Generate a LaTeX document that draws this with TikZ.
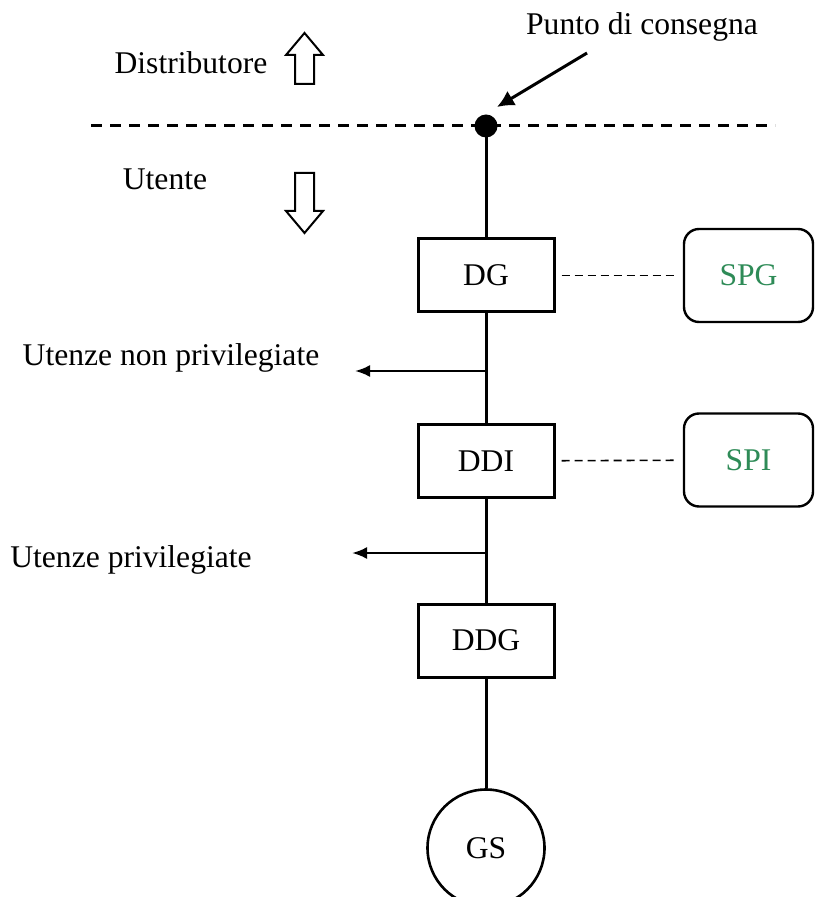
\documentclass[tikz,border=0pt]{standalone}
\usepackage{fontspec}
\setmainfont{Liberation Serif}
\usetikzlibrary{arrows.meta}
\definecolor{spgreen}{RGB}{46,139,87}
\tikzset{
	box/.style={draw, line width=1.5pt, minimum width=68pt, minimum height=36.5pt, inner sep=0pt},
	prot/.style={draw, line width=1.2pt, rounded corners=7.5pt, minimum width=64.5pt, minimum height=46.5pt, inner sep=0pt, text=spgreen},
	wire/.style={line width=1.5pt},
	feed/.style={line width=1.2pt, -{Latex[length=7.5pt,width=6pt]}},
	link/.style={line width=0.8pt, dash pattern=on 4pt off 2.5pt, shorten <=3pt, shorten >=3pt},
	hollow/.style={draw, line width=1pt, line join=miter}
}
\begin{document}
\begin{tikzpicture}[x=0.5pt, y=-0.5pt, font=\fontsize{15.8}{19}\selectfont]
		\useasboundingbox (0,0) rectangle (814,897);
		% confine distributore / utente
		\draw[line width=1.5pt, dash pattern=on 5.5pt off 4pt] (91,126) -- (775,126);
		\coordinate (pc) at (486,126);
		\fill (pc) circle (5.75pt);
		\node (distr) at (191,63) {Distributore};
		\node (ut) at (165,179) {Utente};
		\draw[hollow] (295,84) -- (295,55) -- (286,55) -- (304.5,33) -- (323,55) -- (314,55) -- (314,84) -- cycle;
		\draw[hollow] (295,173) -- (295,211) -- (286,211) -- (304.5,233) -- (323,211) -- (314,211) -- (314,173) -- cycle;
		\node (punto) at (642,27) {Punto di consegna};
		\coordinate (pstart) at (587,53);
		\coordinate (pend) at (497,107);
		\draw[line width=1.5pt, -{Latex[length=8.5pt,width=8.5pt]}] (pstart) -- (pend);
		
		% dispositivi
		\node[box] (dg) at (486,275.5) {DG};
		\node[box] (ddi) at (486,461) {DDI};
		\node[box] (ddg) at (486,640.5) {DDG};
		\node[draw, circle, line width=1.3pt, minimum size=58.5pt, inner sep=0pt] (gs) at (486,848) {GS};
		\node[prot] (spg) at (748.5,275.5) {SPG};
		\node[prot] (spi) at (748.5,460) {SPI};
		
		\draw[wire] (pc) -- (dg);
		\draw[wire] (dg) -- (ddi);
		\draw[wire] (ddi) -- (ddg);
		\draw[wire] (ddg) -- (gs);
		\draw[link] (dg) -- (spg);
		\draw[link] (ddi) -- (spi);
		
		% utenze
		\coordinate (b1) at (486,371);
		\coordinate (u1) at (355,371);
		\coordinate (b2) at (486,553);
		\coordinate (u2) at (352,553);
		\draw[feed] (b1) -- (u1);
		\draw[feed] (b2) -- (u2);
		\node (nonpriv) at (171,358) {Utenze non privilegiate};
		\node (priv) at (131,560) {Utenze privilegiate};
	\end{tikzpicture}
\end{document}
